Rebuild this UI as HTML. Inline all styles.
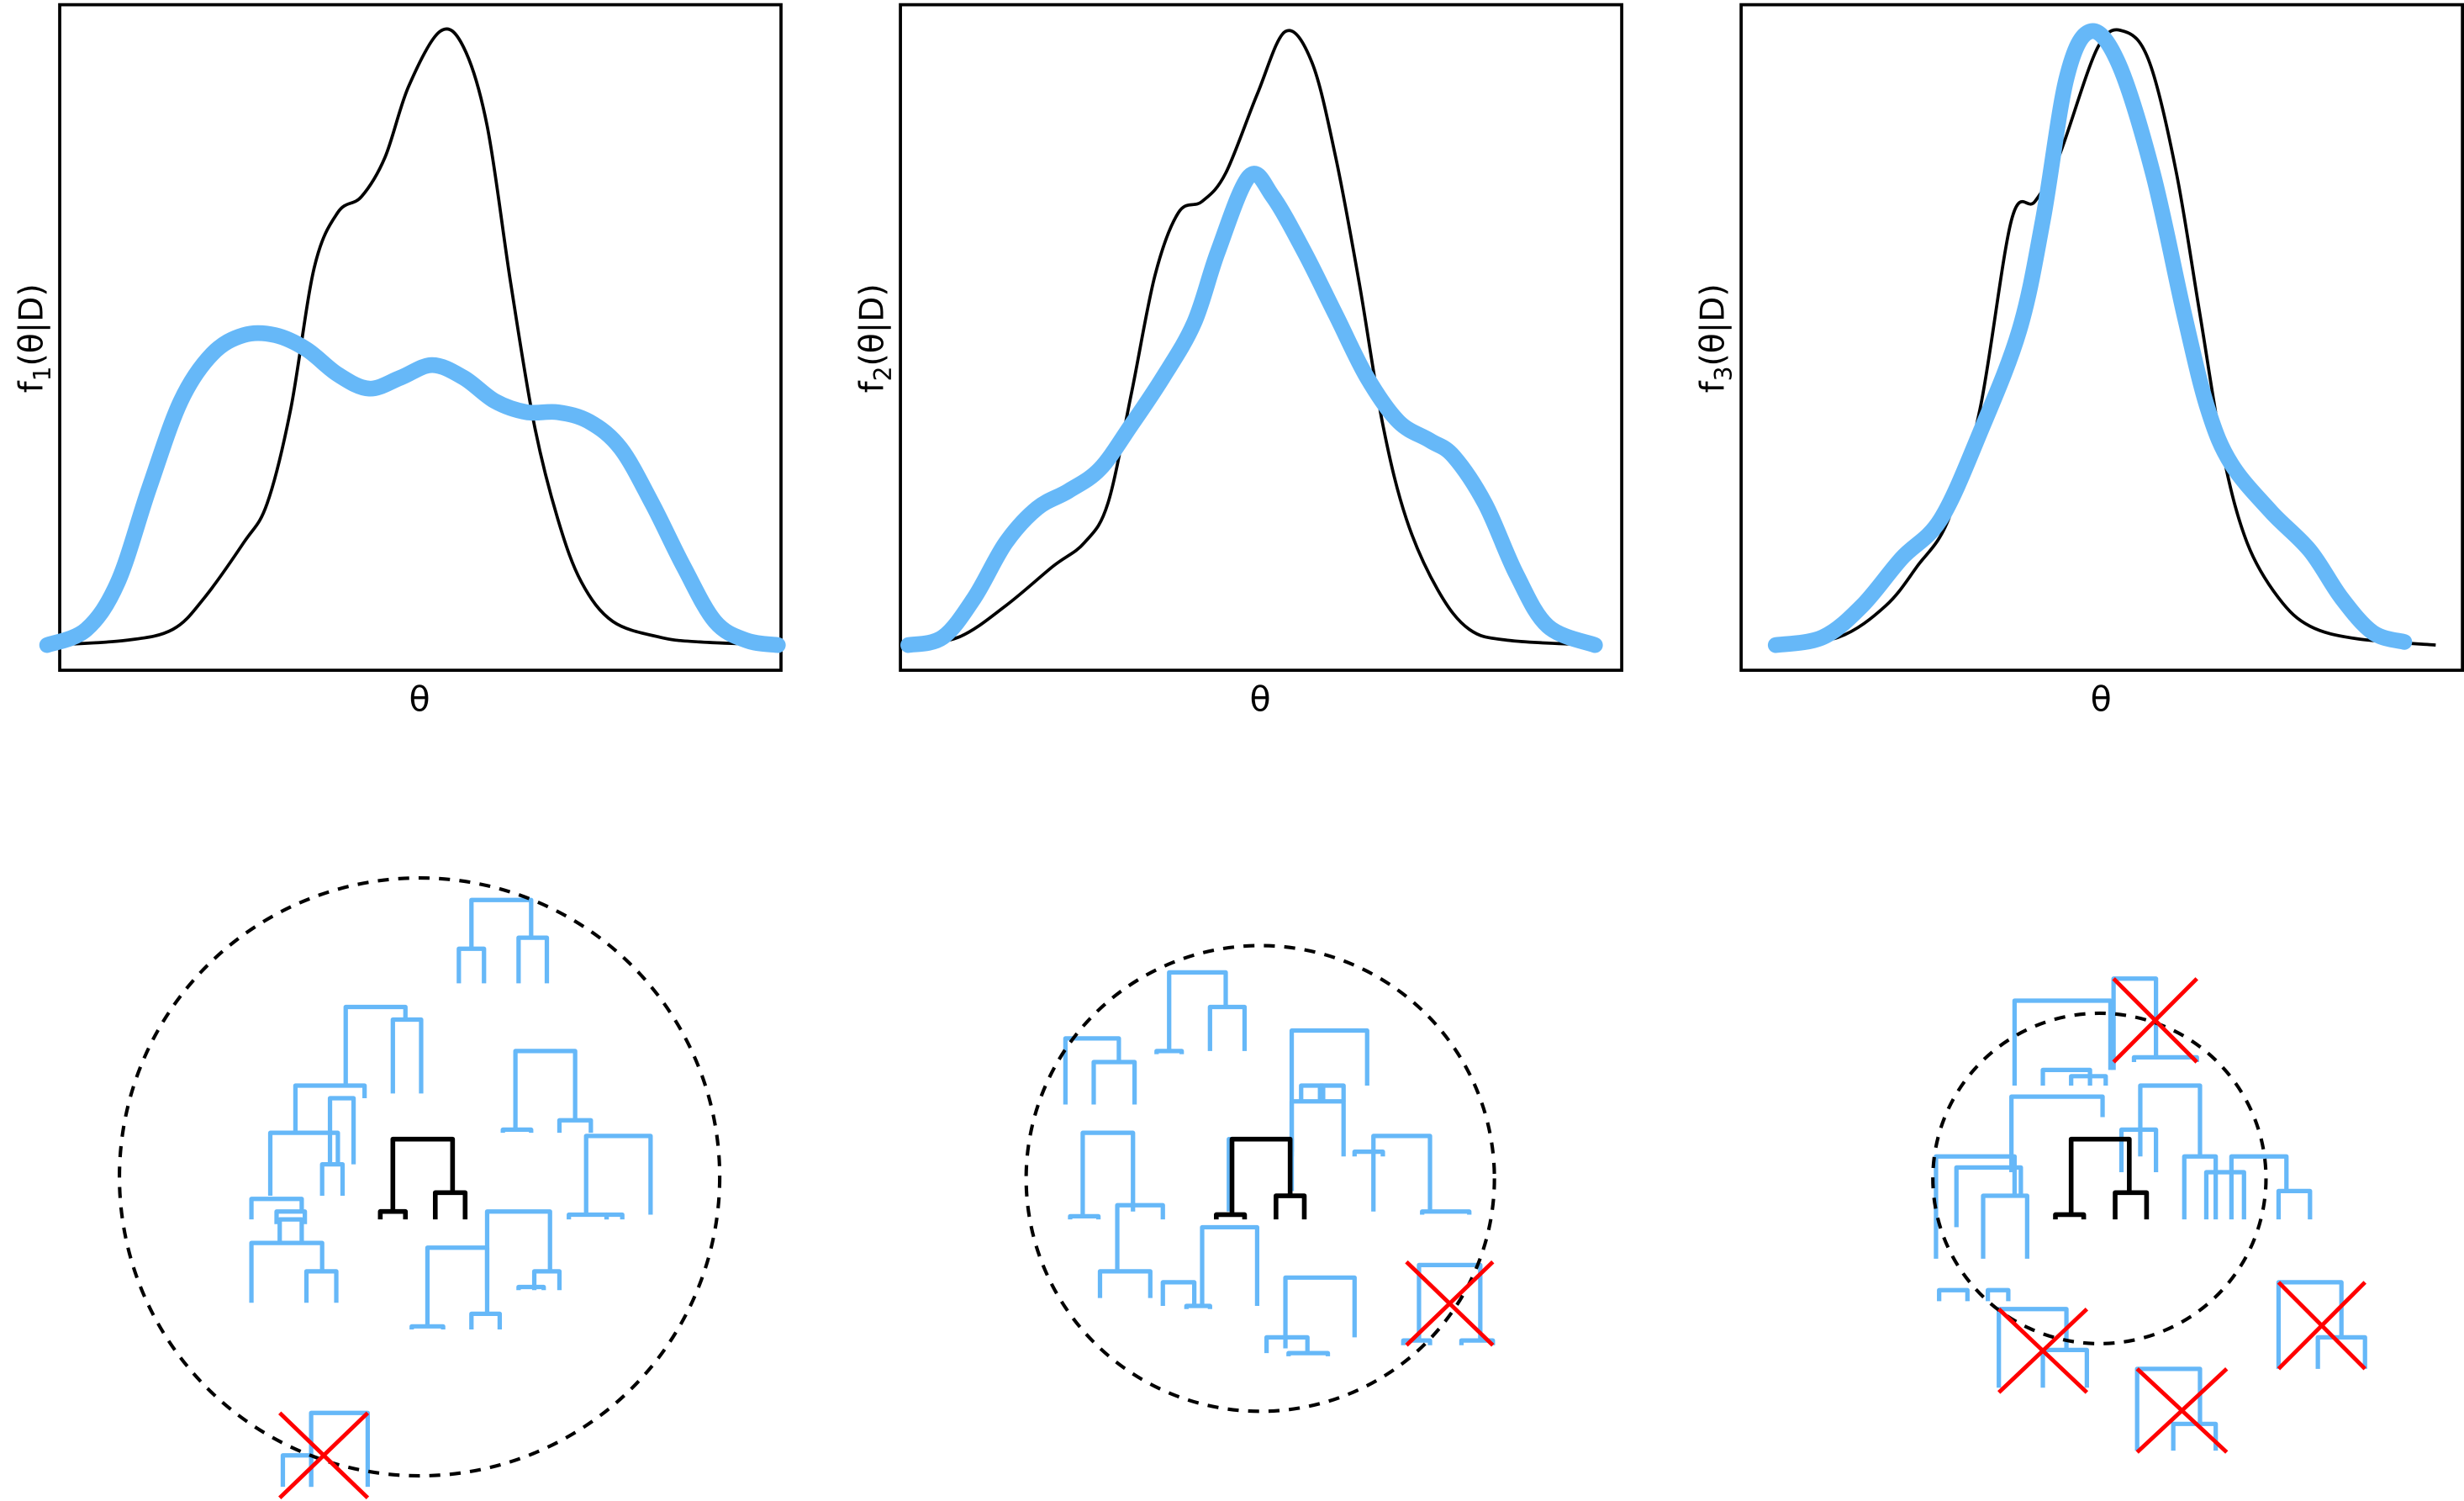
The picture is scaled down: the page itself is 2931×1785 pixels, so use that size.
<!DOCTYPE html>
<html><head><meta charset="utf-8"><style>
html,body{margin:0;padding:0;background:#fff;}
svg{display:block;}
text{font-family:"DejaVu Sans","Liberation Sans",sans-serif;}
</style></head><body>
<svg id="fig" xmlns="http://www.w3.org/2000/svg" width="2931" height="1785" viewBox="0 0 1568 954" preserveAspectRatio="none">
<g id="panels"></g>
<g id="trees"></g>
</svg>
<script>
// Panel 1 data (theta offset units, density units)
const p1BlackTheta=[-8,42,72,92,117,132,147,162,177,192,207,222,242,257,272,287,302,317,332,352,382,407,457];
const p1BlackDens=[0,3,10,30,65,90,150,240,275,285,310,355,390,380,330,230,140,80,40,15,5,2,0];
const p1BlueTheta=[-8,17,37,57,77,97,117,137,157,177,197,217,237,257,277,297,317,337,357,377,397,417,437,457];
const p1BlueDens=[0,10,40,100,155,185,197,197,188,172,163,170,178,170,155,148,148,142,125,90,50,15,3,0];
// Panel 2
const p2BlackTheta=[5,37,67,97,117,132,147,162,177,192,207,227,245,262,277,292,307,322,342,362,387,442];
const p2BlackDens=[0,5,25,50,65,90,160,235,275,282,300,350,390,370,310,230,140,80,35,10,3,0];
const p2BlueTheta=[5,27,47,67,87,107,127,147,167,187,202,222,237,257,277,297,317,337,352,372,392,412,442];
const p2BlueDens=[0,5,30,65,87,98,112,140,170,205,250,298,285,250,210,170,142,130,120,90,45,12,0];
// Panel 3
const p3BlackTheta=[22,62,92,112,132,152,172,187,202,227,244,260,277,292,307,322,342,362,392,442];
const p3BlackDens=[0,5,25,50,80,150,270,282,310,380,390,370,300,210,120,65,30,12,4,0];
const p3BlueTheta=[22,52,77,102,127,152,177,192,207,222,240,262,282,297,312,337,362,382,402,422];
const p3BlueDens=[0,5,25,55,80,135,200,270,360,390,370,300,210,150,115,85,60,30,8,2];
const panelLabels=["1","2","3"];

const NS="http://www.w3.org/2000/svg";
const BLUE="#66b8f8";
function mk(tag,attrs,parent){const e=document.createElementNS(NS,tag);for(const k in attrs)e.setAttribute(k,attrs[k]);parent.appendChild(e);return e;}
function smooth(pts){let d="M"+pts[0][0]+","+pts[0][1];for(let i=0;i<pts.length-1;i++){const p0=pts[Math.max(0,i-1)],p1=pts[i],p2=pts[i+1],p3=pts[Math.min(pts.length-1,i+2)];const c1=[p1[0]+(p2[0]-p0[0])/6,p1[1]+(p2[1]-p0[1])/6];const c2=[p2[0]-(p3[0]-p1[0])/6,p2[1]-(p3[1]-p1[1])/6];d+=" C"+c1[0].toFixed(1)+","+c1[1].toFixed(1)+" "+c2[0].toFixed(1)+","+c2[1].toFixed(1)+" "+p2[0]+","+p2[1];}return d;}

const panels=document.getElementById("panels");
const lefts=[38,573,1108];
const series=[[p1BlackTheta,p1BlackDens,p1BlueTheta,p1BlueDens],[p2BlackTheta,p2BlackDens,p2BlueTheta,p2BlueDens],[p3BlackTheta,p3BlackDens,p3BlueTheta,p3BlueDens]];
for(let i=0;i<3;i++){
  const L=lefts[i];
  const xs=t=>L+t, ys=d=>410-d;
  const g=mk("g",{},panels);
  
  
  const box=mk("rect",{x:L,y:3,width:459,height:423,fill:"none",stroke:"#000","stroke-width":2},g);
  
  
  const [bt,bd,ut,ud]=series[i];
  const bl=mk("path",{d:smooth(bt.map((t,k)=>[xs(t),ys(bd[k])])),fill:"none",stroke:"#000","stroke-width":2},g);
  
  
  const bu=mk("path",{d:smooth(ut.map((t,k)=>[xs(t),ys(ud[k])])),fill:"none",stroke:BLUE,"stroke-width":10,"stroke-linecap":"round","stroke-linejoin":"round"},g);
  
  
  const xl=mk("text",{x:L+229,y:452,"font-size":22,"text-anchor":"middle"},g);
  xl.textContent="θ";
  
  
  const yl=mk("text",{transform:"translate("+(L-11)+",215) rotate(-90)","font-size":21,"text-anchor":"middle"},g);
  
  
  const a=mk("tspan",{},yl);a.textContent="f";
  const b=mk("tspan",{"font-size":15,dy:5},yl);b.textContent=panelLabels[i];
  const c=mk("tspan",{dy:-5},yl);c.textContent="(θ|D)";
}

// Trees: circles and brackets [x1,x2,y,yLeftBottom,yRightBottom]
const circles=[[267,748,191,190],[802,749,149,148],[1336,749,106,105]];
const blueBr=[
 [[300,338,572,603,596],[292,308,603,625,625],[330,348,596,625,625],
  [220,258,640,690,648],[250,268,648,695,695],[188,232,690,720,698],[210,225,698,740,740],
  [172,215,720,760,740],[205,218,740,760,760],[160,192,762,775,770],[176,194,770,778,778],
  [160,205,790,828,808],[195,214,808,828,828],[178,192,775,790,790],
  [328,366,668,718,712],[320,338,718,720,720],[356,376,712,720,720],
  [373,414,722,772,772],[362,386,772,775,775],[386,396,772,775,775],
  [310,350,770,820,808],[272,310,793,843,835],[300,318,835,845,845],[262,282,843,845,845],[340,356,808,820,820],[330,346,818,820,820],
  [198,234,898,945,945],[180,198,925,945,945]],
 [[744,780,618,668,640],[736,752,668,670,670],[770,792,640,668,668],
  [678,712,660,702,675],[696,722,675,702,702],
  [689,721,720,773,770],[681,699,773,775,775],[711,740,766,808,775],
  [700,732,808,825,825],[740,760,815,830,830],
  [782,822,724,770,757],[822,870,655,732,690],[828,842,690,700,700],[840,855,690,700,700],[822,855,700,735,735],[862,880,732,735,735],
  [874,910,722,770,770],[905,935,770,772,772],
  [765,800,780,830,830],[755,770,830,832,832],[818,862,812,857,850],[806,832,850,860,860],[820,845,860,862,862],
  [903,942,804,852,852],[893,910,852,855,855],[930,950,852,855,855]],
 [[1282,1343,636,690,680],[1300,1330,680,690,690],[1318,1340,684,690,690],
  [1280,1338,697,745,710],[1245,1286,742,780,760],[1232,1282,735,800,760],[1262,1290,760,800,800],[1234,1252,820,827,827],[1265,1278,820,827,827],
  [1362,1400,690,735,735],[1350,1372,718,745,745],[1390,1410,735,775,775],[1404,1428,745,775,775],[1420,1455,735,775,757],[1450,1470,757,775,775],
  [1345,1372,622,680,672],[1358,1398,672,675,675],
  [1360,1400,870,922,905],[1383,1410,905,922,922],
  [1450,1490,815,870,850],[1475,1505,850,870,870],
  [1272,1315,832,882,858],[1300,1328,858,882,882]]
];
const blackBr=[[[250,288,724,770,758],[242,258,770,775,775],[277,296,758,775,775]],
 [[784,821,724,772,760],[774,792,772,775,775],[812,830,760,775,775]],
 [[1318,1355,724,772,758],[1308,1326,772,775,775],[1346,1366,758,775,775]]];
const crosses=[[178,898,234,952],[895,802,950,855],[1345,622,1398,675],[1360,870,1417,923],[1450,815,1505,870],[1272,832,1328,885]];
const trees=document.getElementById("trees");
function br(b,col,w,g){const p=mk("path",{d:"M"+b[0]+","+b[3]+" V"+b[2]+" H"+b[1]+" V"+b[4],fill:"none",stroke:col,"stroke-width":w,"stroke-linejoin":"round"},g);
 
 }
for(let i=0;i<3;i++){
 const g=mk("g",{},trees);
 
 
 blueBr[i].forEach(b=>br(b,BLUE,2.8,g));
 blackBr[i].forEach(b=>br(b,"#000",3,g));
 const c=circles[i];
 const e=mk("ellipse",{cx:c[0],cy:c[1],rx:c[2],ry:c[3],fill:"none",stroke:"#000","stroke-width":2.2,"stroke-dasharray":"7,6"},g);
 
 
}
crosses.forEach(c=>{
 const g=mk("g",{},trees);
 
 
 mk("line",{x1:c[0],y1:c[1],x2:c[2],y2:c[3],stroke:"#f00","stroke-width":2.6},g);
 mk("line",{x1:c[2],y1:c[1],x2:c[0],y2:c[3],stroke:"#f00","stroke-width":2.6},g);
});
</script>
</body></html>
